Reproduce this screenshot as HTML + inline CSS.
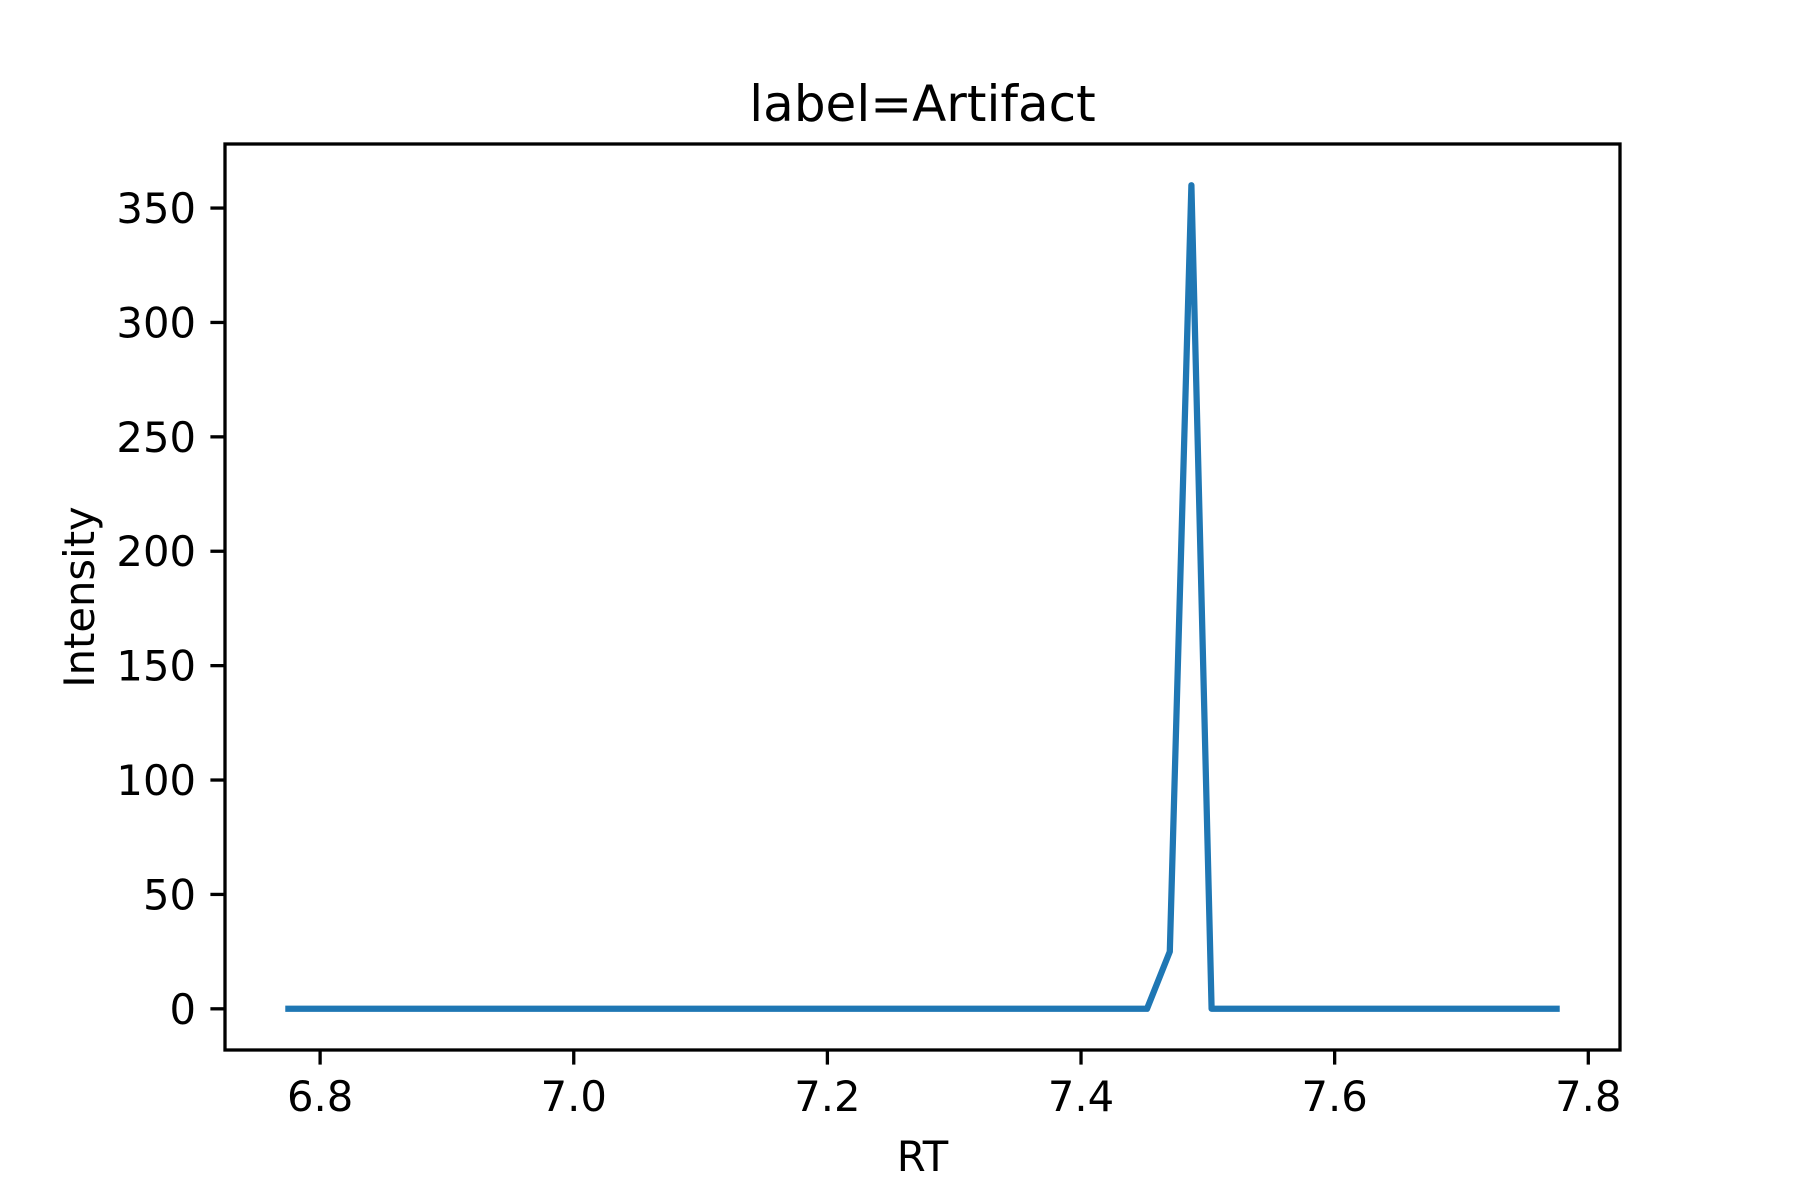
<!DOCTYPE html>
<html><head><meta charset="utf-8"><style>body{margin:0;background:#fff}svg{display:block}text{font-family:"DejaVu Sans","Liberation Sans",sans-serif;fill:#000}</style></head>
<body>
<svg id="chart" width="1800" height="1200" viewBox="0 0 1800 1200" xmlns="http://www.w3.org/2000/svg"></svg>
<script>
const rtValues = [6.775, 7.452, 7.470, 7.487, 7.503, 7.775];
const intensityValues = [0, 0, 25, 360, 0, 0];
const xTicks = [6.8, 7.0, 7.2, 7.4, 7.6, 7.8];
const xTickLabels = ["6.8", "7.0", "7.2", "7.4", "7.6", "7.8"];
const yTicks = [0, 50, 100, 150, 200, 250, 300, 350];
const yTickLabels = ["0", "50", "100", "150", "200", "250", "300", "350"];

const L = 225, R = 1620, T = 144, B = 1050;
const xMin = 6.725, xMax = 7.825, yMin = -18, yMax = 378;
const xs = v => L + (v - xMin) / (xMax - xMin) * (R - L);
const ys = v => B - (v - yMin) / (yMax - yMin) * (B - T);
const svg = document.getElementById('chart');
const NS = 'http://www.w3.org/2000/svg';
function mk(tag, attrs, parent) {
  const e = document.createElementNS(NS, tag);
  for (const k in attrs) e.setAttribute(k, attrs[k]);
  (parent || svg).appendChild(e);
  return e;
}
const title = mk('text', {x: (L + R) / 2, y: 121, 'text-anchor': 'middle', 'font-size': 50});


title.textContent = 'label=Artifact';

const pts = rtValues.map((v, i) => xs(v).toFixed(1) + ',' + ys(intensityValues[i]).toFixed(1)).join(' ');
const line = mk('polyline', {points: pts, fill: 'none', stroke: '#1f77b4', 'stroke-width': 6.25, 'stroke-linejoin': 'round', 'stroke-linecap': 'square'});



xTicks.forEach((t, i) => {
  const g = mk('g', {});
  
  
  mk('line', {x1: xs(t), x2: xs(t), y1: B, y2: B + 14.6, stroke: '#000', 'stroke-width': 3.3}, g);
  const tx = mk('text', {x: xs(t), y: 1111, 'text-anchor': 'middle', 'font-size': 41.7}, g);
  tx.textContent = xTickLabels[i];
});
yTicks.forEach((t, i) => {
  const g = mk('g', {});
  
  
  mk('line', {x1: L - 14.6, x2: L, y1: ys(t), y2: ys(t), stroke: '#000', 'stroke-width': 3.3}, g);
  const tx = mk('text', {x: L - 29, y: ys(t) + 15, 'text-anchor': 'end', 'font-size': 41.7}, g);
  tx.textContent = yTickLabels[i];
});
const frame = mk('rect', {x: L, y: T, width: R - L, height: B - T, fill: 'none', stroke: '#000', 'stroke-width': 3.3});



const xl = mk('text', {x: (L + R) / 2, y: 1171, 'text-anchor': 'middle', 'font-size': 41.7});


xl.textContent = 'RT';
const yl = mk('text', {x: 0, y: 0, 'text-anchor': 'middle', 'font-size': 41.7, transform: 'translate(94,' + ((T + B) / 2) + ') rotate(-90)'});


yl.textContent = 'Intensity';
</script>
</body></html>
